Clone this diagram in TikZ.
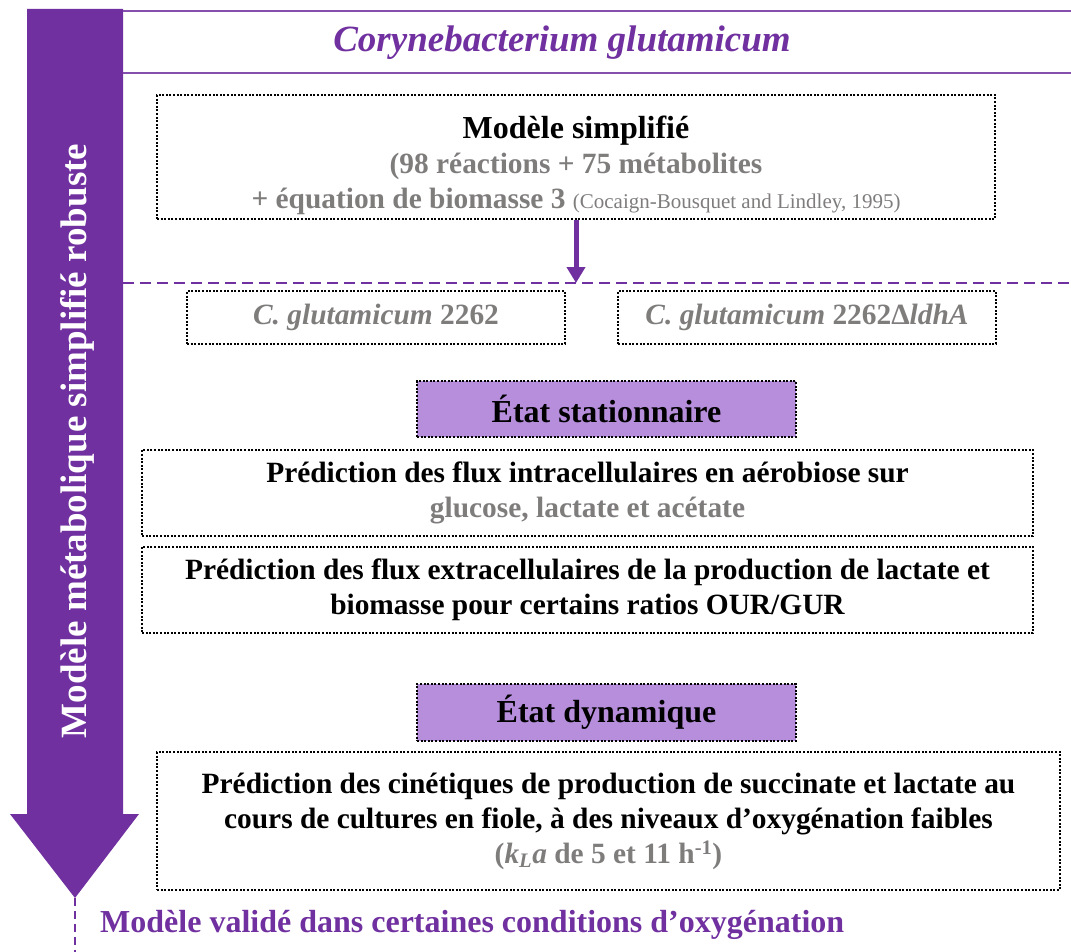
\documentclass[tikz,border=0pt]{standalone}
\usepackage{fontspec}
\setmainfont{Liberation Serif}
\usetikzlibrary{positioning,arrows.meta,calc}
\definecolor{cgPurple}{RGB}{112,48,160}
\definecolor{cgLilac}{RGB}{182,142,220}
\definecolor{cgGrey}{RGB}{127,124,124}
\newcommand{\cgbody}{\fontsize{29.4}{35}\selectfont\bfseries}
\newcommand{\cghead}{\fontsize{32}{35}\selectfont\bfseries}
\newcommand{\cgsmall}{\fontsize{21}{24}\selectfont\mdseries}
\tikzset{
  cgPanel/.style={draw=black, line width=2pt, dash pattern=on 2pt off 1.6pt,
    align=center, font=\cgbody, text=black, inner sep=0pt},
  cgState/.style={cgPanel, fill=cgLilac, font=\cghead},
  cgStrain/.style={cgPanel, text=cgGrey},
  cgRule/.style={draw=cgPurple!85, line width=2.4pt},
  cgDash/.style={draw=cgPurple, line width=2.6pt, dash pattern=on 11pt off 6pt},
  cgFlow/.style={-{Triangle[width=18pt,length=16pt]}, line width=5pt, draw=cgPurple},
  cgTitle/.style={font=\fontsize{37}{40}\selectfont\bfseries\itshape, text=cgPurple, inner sep=0pt},
  cgSide/.style={font=\fontsize{37}{40}\selectfont\bfseries, text=white, rotate=90, inner sep=0pt}
}
\begin{document}
\begin{tikzpicture}[x=1pt,y=-1pt]
\useasboundingbox (0,0) rectangle (1071,952);
% left band and arrow
\fill[cgPurple] (27,9) -- (123,9) -- (123,814) -- (139,814) -- (75,898)
  -- (10,814) -- (27,814) -- cycle;
\node[cgSide] (side) at (77,441) {Modèle métabolique simplifié robuste};
\coordinate (tip) at (75,898);
\coordinate (foot) at (75,952);
\draw[cgDash, dash pattern=on 8pt off 5pt, line width=2pt] (tip) -- (foot);
% header
\draw[cgRule] (123,11) -- (1071,11);
\draw[cgRule] (123,73) -- (1071,73);
\node[cgTitle] (title) at (562,43) {Corynebacterium glutamicum};
% model
\node[cgPanel, minimum width=838pt, minimum height=124pt] (model) at (576,157)
  {\rule{0pt}{40pt}{\cghead Modèle simplifié}\\
   \textcolor{cgGrey}{(98 réactions + 75 métabolites}\\
   \textcolor{cgGrey}{+ équation de biomasse 3 {\cgsmall(Cocaign-Bousquet and Lindley, 1995)}}};
\coordinate (sepL) at (123,283);
\coordinate (sepR) at (1071,283);
\coordinate (split) at (576,283);
\draw[cgDash] (sepL) -- (sepR);
\draw[cgFlow] (model.south) -- (split);
% strains
\node[cgStrain, minimum width=378pt, minimum height=53pt] (wt) at (376,317.5)
  {{\itshape C. glutamicum} 2262};
\node[cgStrain, minimum width=378pt, minimum height=53pt] (mut) at (807,317.5)
  {{\itshape C. glutamicum} 2262Δ{\itshape ldhA}};
% steady state
\node[cgState, minimum width=379pt, minimum height=56pt] (stat) at (606.5,409) {État stationnaire};
\node[cgPanel, minimum width=891pt, minimum height=86pt] (intra) at (587.5,493)
  {Prédiction des flux intracellulaires en aérobiose sur\\
   \textcolor{cgGrey}{glucose, lactate et acétate}};
\node[cgPanel, minimum width=891pt, minimum height=86pt] (extra) at (587.5,590)
  {Prédiction des flux extracellulaires de la production de lactate et\\
   biomasse pour certains ratios OUR/GUR};
% dynamic state
\node[cgState, minimum width=379pt, minimum height=57pt] (dyn) at (606.5,712.5) {État dynamique};
\node[cgPanel, minimum width=903pt, minimum height=138pt] (kin) at (608.5,821)
  {Prédiction des cinétiques de production de succinate et lactate au\\
   cours de cultures en fiole, à des niveaux d’oxygénation faibles\\
   \textcolor{cgGrey}{(\textit{k}\textsubscript{\textit{L}}\textit{a} de 5 et 11 h\textsuperscript{-1})}};
\node[font=\cghead, text=cgPurple, anchor=west, inner sep=0pt] (valid) at (100,925)
  {Modèle validé dans certaines conditions d’oxygénation};
\end{tikzpicture}
\end{document}
